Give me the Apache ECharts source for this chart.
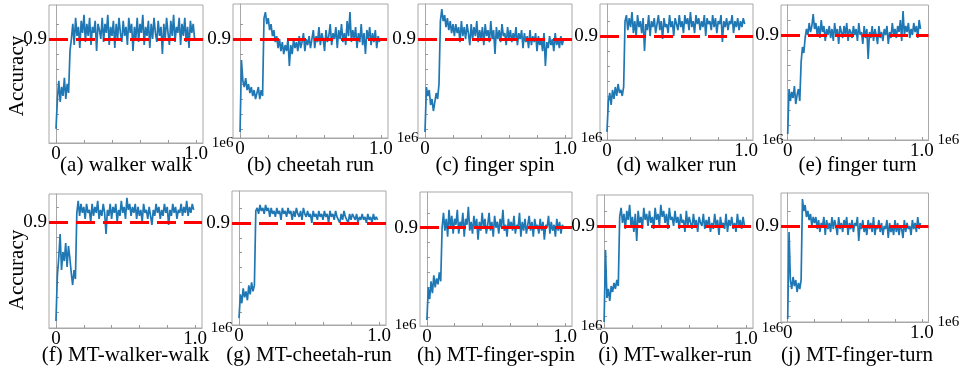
<!DOCTYPE html>
<html>
<head>
<meta charset="utf-8">
<script src="https://cdn.jsdelivr.net/npm/echarts@6/dist/echarts.min.js"></script>
<style>
  html, body { margin: 0; padding: 0; background: #fff; }
  #c { width: 960px; height: 371px; }
</style>
</head>
<body>
<div id="c"></div>
<script>
// training steps, in thousands
const STEPS_K = [0,10,20,30,40,50,60,70,80,90,100,110,120,130,140,150,160,170,180,190,
  200,210,220,230,240,250,260,270,280,290,300,310,320,330,340,350,360,370,380,390,
  400,410,420,430,440,450,460,470,480,490,500,510,520,530,540,550,560,570,580,590,
  600,610,620,630,640,650,660,670,680,690,700,710,720,730,740,750,760,770,780,790,
  800,810,820,830,840,850,860,870,880,890,900,910,920,930,940,950,960,970,980,990];

const TITLES = ['(a) walker walk', '(b) cheetah run', '(c) finger spin', '(d) walker run', '(e) finger turn',
  '(f) MT-walker-walk', '(g) MT-cheetah-run', '(h) MT-finger-spin', '(i) MT-walker-run', '(j) MT-finger-turn'];

const Y_MIN = [0.553, 0.57, 0.57, 0.553, 0.55, 0.547, 0.557, 0.57, 0.56, 0.58];
const Y_MAX = [1.013, 1.017, 1.017, 1.007, 1.0, 0.993, 1.007, 1.02, 1.003, 1.01];
const THRESHOLD = 0.9;

const X_TICKS = [0, 200000, 400000, 600000, 800000, 1000000];
const X_LABELS = [0, 1000000];
const Y_TICKS = [0.6, 0.65, 0.7, 0.75, 0.8, 0.85, 0.9, 0.95];
const Y_LABELS = [0.9];

const ACC_A = [0.60,
  0.70,0.76,0.69,0.74,0.71,0.77,0.70,0.75,0.72,
  0.86,
  0.90,0.95,0.88,0.97,0.91,0.94,0.87,0.96,0.92,0.98,
  0.89,0.95,0.91,0.97,0.88,0.94,0.92,0.96,0.86,0.95,
  0.93,0.90,0.97,0.89,0.95,0.92,0.98,0.88,0.94,0.91,
  0.96,0.87,0.95,0.90,0.97,0.92,0.89,0.96,0.91,0.94,
  0.88,0.97,0.92,0.95,0.86,0.94,0.90,0.97,0.89,0.95,
  0.92,0.98,0.88,0.94,0.91,0.96,0.87,0.95,0.90,0.97,
  0.92,0.89,0.96,0.91,0.94,0.85,0.95,0.90,0.97,0.92,
  0.88,0.96,0.91,0.98,0.89,0.94,0.92,0.97,0.88,0.95,
  0.91,0.97,0.89,0.94,0.87,0.96,0.92,0.95,0.90];

const ACC_B = [0.59, 0.83,
  0.76,0.74,0.77,0.73,0.75,0.72,0.74,0.71,0.73,0.70,0.72,0.74,0.70,0.73,0.71,
  0.97,
  0.99,0.95,0.97,0.93,0.95,0.91,0.93,0.89,0.91,0.87,0.90,0.86,
  0.89,0.85,0.88,0.86,0.90,0.81,0.88,0.85,0.90,0.87,0.89,
  0.86,0.91,0.87,0.89,0.92,0.86,0.90,0.88,0.91,0.87,
  0.90,0.93,0.87,0.91,0.89,0.94,0.88,0.92,0.90,0.86,
  0.93,0.89,0.91,0.95,0.88,0.92,0.90,0.94,0.87,0.93,
  0.90,0.95,0.89,0.92,0.88,0.96,0.91,0.99,0.89,0.93,
  0.90,0.94,0.87,0.92,0.89,0.95,0.88,0.92,0.85,0.93,
  0.90,0.94,0.88,0.92,0.89,0.93,0.87,0.91,0.89];

const ACC_C = [0.59,
  0.74,0.71,0.73,0.68,0.70,0.66,0.69,0.72,0.70,0.75,
  0.96,
  1.00,0.96,0.98,0.94,0.97,0.93,0.96,0.92,0.95,
  0.91,0.95,0.92,0.94,0.89,0.96,0.91,0.94,0.90,0.95,
  0.92,0.88,0.95,0.90,0.94,0.91,0.96,0.89,0.93,0.90,
  0.94,0.88,0.95,0.91,0.93,0.89,0.96,0.90,0.93,0.85,
  0.94,0.90,0.93,0.89,0.95,0.91,0.92,0.88,0.94,0.90,
  0.93,0.89,0.92,0.90,0.94,0.88,0.92,0.90,0.93,0.87,
  0.92,0.89,0.91,0.87,0.93,0.88,0.91,0.89,0.92,0.86,
  0.91,0.88,0.90,0.86,0.92,0.81,0.89,0.87,0.91,0.88,
  0.90,0.86,0.92,0.88,0.90,0.87,0.91,0.88,0.90];

const ACC_D = [0.58,
  0.68,0.71,0.67,0.72,0.69,0.73,0.70,0.74,0.71,0.72,0.70,0.73,
  0.95,
  0.97,0.92,0.96,0.93,0.98,0.91,0.95,0.90,0.97,0.93,
  0.95,0.91,0.96,0.85,0.94,0.92,0.97,0.90,0.95,0.93,
  0.96,0.91,0.94,0.97,0.92,0.95,0.89,0.96,0.93,0.94,
  0.91,0.97,0.93,0.95,0.90,0.96,0.94,0.92,0.97,0.93,
  0.95,0.91,0.97,0.94,0.96,0.92,0.98,0.93,0.95,0.91,
  0.97,0.94,0.96,0.92,0.95,0.93,0.97,0.90,0.96,0.94,
  0.95,0.92,0.97,0.93,0.96,0.91,0.95,0.94,0.97,0.88,
  0.95,0.93,0.96,0.92,0.95,0.94,0.97,0.91,0.95,0.93,
  0.96,0.92,0.95,0.93,0.96,0.94];

const ACC_E = [0.57,
  0.72,0.68,0.71,0.69,0.73,0.67,0.70,0.72,0.68,
  0.81,0.86,0.84,0.89,0.92,0.90,0.94,0.91,0.93,0.97,0.92,
  0.94,0.90,0.93,0.89,0.95,0.91,0.93,0.88,0.92,0.90,
  0.93,0.89,0.92,0.88,0.94,0.90,0.92,0.87,0.93,0.91,
  0.89,0.93,0.90,0.94,0.88,0.92,0.91,0.89,0.93,0.90,
  0.92,0.88,0.94,0.90,0.91,0.87,0.93,0.89,0.92,0.82,
  0.91,0.89,0.93,0.88,0.92,0.90,0.87,0.93,0.89,0.91,
  0.88,0.92,0.90,0.93,0.87,0.91,0.89,0.94,0.90,0.92,
  0.89,0.93,0.91,0.95,0.88,0.98,0.90,0.93,0.91,0.94,
  0.89,0.92,0.90,0.94,0.91,0.93,0.89,0.95,0.92];

const ACC_F = [0.57,
  0.72,0.78,0.86,0.74,0.80,0.77,0.83,0.75,0.82,0.78,0.73,0.69,0.74,0.71,
  0.93,
  0.97,0.92,0.96,0.93,0.95,0.91,0.96,0.93,0.94,0.90,
  0.96,0.92,0.95,0.93,0.97,0.91,0.94,0.92,0.96,0.93,
  0.86,0.94,0.92,0.96,0.91,0.95,0.93,0.96,0.90,0.94,
  0.92,0.97,0.93,0.95,0.91,0.98,0.94,0.96,0.92,0.95,
  0.93,0.96,0.91,0.95,0.92,0.94,0.90,0.96,0.93,0.94,
  0.91,0.95,0.92,0.89,0.94,0.92,0.96,0.93,0.95,0.91,
  0.94,0.92,0.96,0.93,0.95,0.89,0.94,0.92,0.96,0.93,
  0.95,0.91,0.94,0.93,0.96,0.92,0.95,0.93,0.97,0.92,
  0.95,0.93,0.96,0.94];

const ACC_G = [0.58,
  0.66,0.63,0.68,0.65,0.67,0.64,0.69,0.66,0.70,0.67,0.69,
  0.94,
  0.95,0.93,0.96,0.94,0.95,0.93,0.96,0.94,0.95,0.92,
  0.95,0.93,0.94,0.92,0.95,0.93,0.94,0.91,0.95,0.93,
  0.94,0.92,0.95,0.93,0.94,0.91,0.94,0.92,0.95,0.93,
  0.92,0.94,0.91,0.95,0.93,0.92,0.94,0.92,0.93,0.90,
  0.94,0.92,0.93,0.91,0.94,0.92,0.93,0.91,0.94,0.92,
  0.93,0.90,0.94,0.92,0.93,0.91,0.94,0.92,0.92,0.90,
  0.93,0.91,0.94,0.92,0.92,0.90,0.93,0.91,0.93,0.92,
  0.91,0.93,0.90,0.92,0.91,0.93,0.91,0.92,0.90,0.93,
  0.91,0.92,0.90,0.93,0.91,0.92,0.91];

const ACC_H = [0.59,
  0.70,0.66,0.72,0.68,0.74,0.70,0.73,0.71,0.75,0.72,
  0.90,
  0.95,0.89,0.93,0.87,0.96,0.90,0.94,0.88,0.93,0.91,
  0.96,0.88,0.92,0.90,0.95,0.87,0.93,0.91,0.97,0.89,
  0.92,0.88,0.94,0.90,0.93,0.86,0.92,0.89,0.95,0.90,
  0.93,0.88,0.91,0.95,0.89,0.92,0.87,0.94,0.90,0.92,
  0.88,0.93,0.90,0.96,0.89,0.91,0.87,0.93,0.90,0.92,
  0.89,0.94,0.88,0.91,0.90,0.95,0.87,0.92,0.89,0.93,
  0.88,0.91,0.94,0.89,0.92,0.87,0.93,0.90,0.91,0.88,
  0.93,0.89,0.92,0.86,0.91,0.90,0.94,0.88,0.92,0.89,
  0.91,0.87,0.93,0.89,0.92,0.88,0.91,0.90];

const ACC_I = [0.58, 0.82,
  0.66,0.69,0.65,0.70,0.68,0.71,0.69,0.72,0.70,
  0.93,
  0.96,0.91,0.94,0.89,0.95,0.92,0.97,0.90,0.93,0.88,
  0.94,0.85,0.95,0.91,0.93,0.89,0.96,0.92,0.94,0.90,
  0.95,0.91,0.93,0.89,0.96,0.92,0.94,0.90,0.97,0.93,
  0.95,0.91,0.94,0.89,0.96,0.92,0.93,0.90,0.95,0.91,
  0.93,0.89,0.94,0.91,0.92,0.88,0.95,0.90,0.93,0.91,
  0.89,0.94,0.90,0.92,0.88,0.93,0.91,0.90,0.94,0.89,
  0.92,0.90,0.93,0.88,0.91,0.89,0.94,0.90,0.92,0.87,
  0.93,0.90,0.91,0.89,0.94,0.88,0.92,0.90,0.93,0.89,
  0.91,0.88,0.94,0.90,0.92,0.89,0.93,0.90];

const ACC_J = [0.59, 0.88,
  0.72,0.69,0.73,0.70,0.72,0.68,0.71,0.69,0.72,
  0.99,
  0.95,0.97,0.93,0.95,0.92,0.94,0.90,0.93,0.91,
  0.93,0.89,0.92,0.88,0.91,0.90,0.93,0.87,0.92,0.89,
  0.91,0.88,0.93,0.89,0.92,0.90,0.87,0.93,0.89,0.91,
  0.88,0.92,0.90,0.93,0.87,0.91,0.89,0.92,0.88,0.91,
  0.90,0.93,0.85,0.91,0.89,0.92,0.88,0.90,0.87,0.92,
  0.89,0.91,0.88,0.93,0.87,0.90,0.89,0.92,0.88,0.91,
  0.87,0.90,0.89,0.92,0.86,0.91,0.88,0.90,0.87,0.92,
  0.88,0.91,0.87,0.90,0.89,0.86,0.92,0.88,0.91,0.89,
  0.90,0.87,0.92,0.89,0.91,0.88,0.93,0.89,0.91];

const ACC = [ACC_A, ACC_B, ACC_C, ACC_D, ACC_E, ACC_F, ACC_G, ACC_H, ACC_I, ACC_J];

// plot boxes: left, top, width, height (px)
const BOXES = [
  [49, 5, 154, 138], [233, 4, 155, 134], [418, 4, 154, 134], [600, 4, 153, 136], [781, 5, 153, 135],
  [49, 194, 153, 134], [232, 191, 154, 134], [420, 192, 152, 134], [597, 195, 156, 133], [781, 193, 152, 129]
];

const FONT = 'Liberation Serif, Times New Roman, serif';
const BORDER = '#a8a8a8';

const chart = echarts.init(document.getElementById('c'));

const grids = [];
const xAxes = [];
const yAxes = [];
const series = [];
const graphics = [];

BOXES.forEach(([l, t, w, h], i) => {
    grids.push({
        left: l, top: t, width: w, height: h,
        show: true, borderColor: BORDER, borderWidth: 1,
    });
    xAxes.push({
        type: 'value',
        gridIndex: i,
        min: -50000,
        max: 1050000,
        axisLine: { show: true, lineStyle: { color: BORDER, width: 1 } },
        splitLine: { show: false },
        axisTick: {
            show: true, inside: true, length: 3,
            customValues: X_TICKS,
            lineStyle: { color: '#999' },
        },
        axisLabel: {
            customValues: X_LABELS,
            margin: 2,
            color: '#000',
            fontFamily: FONT,
            fontSize: 19,
            formatter: (v) => (v === 0 ? '0' : (v / 1e6).toFixed(1)),
        },
        name: '1e6',
        nameLocation: 'end',
        nameGap: 2,
        nameTextStyle: {
            color: '#000', fontFamily: FONT, fontSize: 15,
            align: 'left', verticalAlign: 'bottom', padding: [0, 0, -8, 0],
        },
    });
    yAxes.push({
        type: 'value',
        gridIndex: i,
        min: Y_MIN[i],
        max: Y_MAX[i],
        axisLine: { show: true, lineStyle: { color: BORDER, width: 1 } },
        splitLine: { show: false },
        axisTick: {
            show: true, inside: true, length: 3,
            customValues: Y_TICKS,
            lineStyle: { color: '#999' },
        },
        axisLabel: {
            customValues: Y_LABELS,
            margin: 2,
            color: '#000',
            fontFamily: FONT,
            fontSize: 19,
            formatter: (v) => v.toFixed(1),
        },
    });
    series.push({
        type: 'line',
        xAxisIndex: i,
        yAxisIndex: i,
        data: STEPS_K.map((s, j) => [s * 1000, ACC[i][j]]),
        showSymbol: false,
        lineStyle: { color: '#1f77b4', width: 1.7 },
        markLine: {
            silent: true,
            symbol: 'none',
            label: { show: false },
            lineStyle: { color: '#ff0000', type: [19, 8], width: 3, opacity: 1 },
            data: [{ yAxis: THRESHOLD }],
        },
    });
    graphics.push({
        type: 'text',
        x: l + w / 2,
        y: i < 5 ? 165 : 355,
        style: {
            text: TITLES[i],
            fontFamily: FONT,
            fontSize: 21,
            fill: '#000',
            textAlign: 'center',
            textVerticalAlign: 'middle',
        },
    });
});

// y axis title, one per row
[76, 270].forEach((cy) => {
    graphics.push({
        type: 'text',
        x: 17,
        y: cy,
        rotation: Math.PI / 2,
        style: {
            text: 'Accuracy',
            fontFamily: FONT,
            fontSize: 21,
            fill: '#000',
            textAlign: 'center',
            textVerticalAlign: 'middle',
        },
    });
});

chart.setOption({
    animation: false,
    grid: grids,
    xAxis: xAxes,
    yAxis: yAxes,
    series: series,
    graphic: graphics,
});
</script>
</body>
</html>
